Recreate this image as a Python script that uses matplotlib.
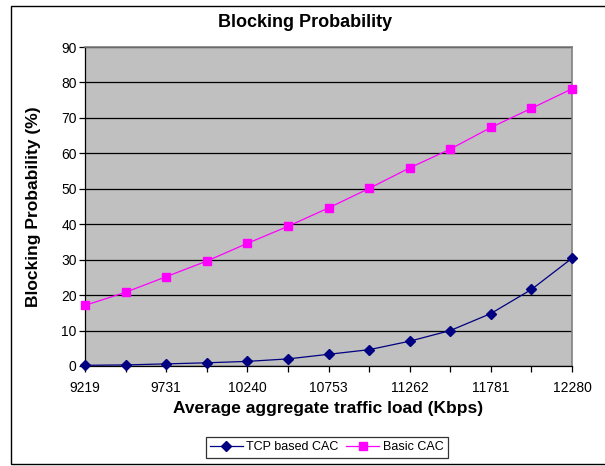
#!/usr/bin/env python3
"""Blocking probability versus average aggregate traffic load for two CAC schemes."""

import matplotlib
matplotlib.use("Agg")
import matplotlib.pyplot as plt
from matplotlib.patches import Rectangle

plt.rcParams['font.family'] = ['Liberation Sans', 'DejaVu Sans']

# Category axis: only every other load value carries a label
load_labels = ["9219", "", "9731", "", "10240", "", "10753", "", "11262", "",
               "11781", "", "12280"]
tcp_cac = [0.2, 0.3, 0.6, 0.9, 1.3, 2.0, 3.3, 4.6, 7.0, 10.0, 14.8, 21.6, 30.4]
basic_cac = [17.1, 20.8, 25.2, 29.6, 34.6, 39.4, 44.6, 50.1, 55.9, 61.2, 67.3, 72.7, 78.2]
y_ticks = list(range(0, 91, 10))

fig = plt.figure(figsize=(6.05, 4.66), dpi=100)
fig.patch.set_facecolor("white")

# outer chart-area border (runs off the right edge of the canvas)
fig.patches.append(Rectangle((0.019, 0.0043), 1.1, 0.9835, transform=fig.transFigure,
                             fill=False, edgecolor="black", linewidth=1.0))

ax = fig.add_axes([0.1405, 0.2146, 0.805, 0.6845])
ax.set_facecolor("#C0C0C0")

x = list(range(len(load_labels)))
ax.plot(x, tcp_cac, color="#000080", linewidth=0.9, marker="D", markersize=5,
        label="TCP based CAC", clip_on=False, zorder=4)
ax.plot(x, basic_cac, color="#FF00FF", linewidth=0.9, marker="s", markersize=5.5,
        label="Basic CAC", clip_on=False, zorder=4)

ax.set_xlim(0, len(load_labels) - 1)
ax.set_ylim(0, 90)
ax.set_yticks(y_ticks)
ax.set_xticks(x)
ax.set_xticklabels(load_labels)
ax.grid(axis="y", color="black", linewidth=0.9)
ax.set_axisbelow(True)

for side in ("top", "right"):
    ax.spines[side].set_color("#808080")
    ax.spines[side].set_linewidth(1.2)
for side in ("left", "bottom"):
    ax.spines[side].set_color("black")
    ax.spines[side].set_linewidth(0.9)

ax.tick_params(axis="x", direction="out", length=4, width=0.9, pad=7, labelsize=10)
ax.tick_params(axis="y", direction="out", length=4, width=0.9, pad=2, labelsize=10)

fig.text(0.505, 0.951, "Blocking Probability", ha="center", va="center",
         fontsize=13, fontweight="bold")
fig.text(0.055, 0.557, "Blocking Probability (%)", ha="center", va="center",
         rotation=90, fontsize=12.5, fontweight="bold")
fig.text(0.543, 0.124, "Average aggregate traffic load (Kbps)", ha="center", va="center",
         fontsize=12.5, fontweight="bold")

leg = fig.legend(loc="center", bbox_to_anchor=(0.54, 0.040), ncol=2, fontsize=9,
                 frameon=True, fancybox=False, edgecolor="black", handlelength=2.6,
                 handletextpad=0.3, columnspacing=0.6, borderpad=0.35)
leg.get_frame().set_linewidth(0.9)

fig.savefig("out.png", dpi=100)
